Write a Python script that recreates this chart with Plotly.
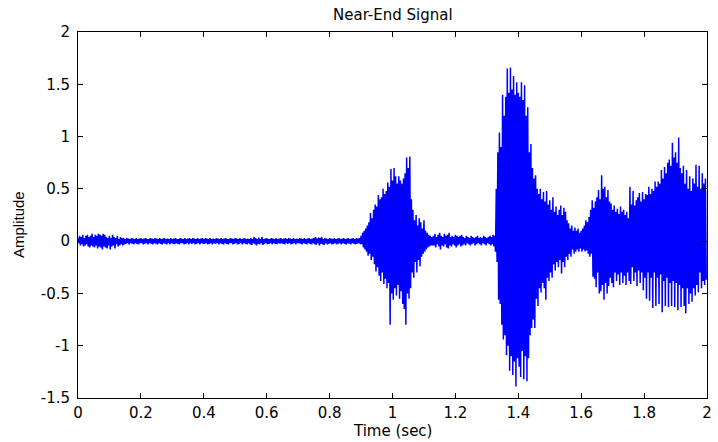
import numpy as np
import plotly.graph_objects as go

# ---- data: waveform envelope samples (upper / lower extremes, 5 ms steps) ----
dt = 0.005
seg_starts = [0.0, 0.9, 1.13, 1.33]

quiet1_upper = [
    0.03, 0.05, 0.04, 0.06, 0.03, 0.05, 0.06, 0.04, 0.05, 0.07,
    0.04, 0.06, 0.05, 0.07, 0.06, 0.05, 0.07, 0.06, 0.04, 0.03,
    0.05, 0.03, 0.06, 0.04, 0.03, 0.05, 0.02, 0.04, 0.03, 0.03,
    0.02, 0.03, 0.025, 0.02, 0.03, 0.025, 0.02, 0.03, 0.02, 0.025,
    0.03, 0.02, 0.025, 0.03, 0.02, 0.02, 0.03, 0.025, 0.02, 0.03,
    0.025, 0.02, 0.03, 0.02, 0.025, 0.03, 0.02, 0.025, 0.02, 0.03,
    0.02, 0.025, 0.03, 0.02, 0.02, 0.03, 0.025, 0.02, 0.03, 0.02,
    0.025, 0.03, 0.02, 0.03, 0.025, 0.02, 0.03, 0.02, 0.025, 0.03,
    0.02, 0.03, 0.025, 0.02, 0.03, 0.02, 0.025, 0.02, 0.03, 0.025,
    0.02, 0.03, 0.02, 0.025, 0.03, 0.02, 0.02, 0.03, 0.025, 0.02,
    0.03, 0.025, 0.02, 0.03, 0.02, 0.025, 0.03, 0.02, 0.025, 0.02,
    0.03, 0.02, 0.04, 0.03, 0.02, 0.035, 0.02, 0.04, 0.02, 0.025,
    0.03, 0.02, 0.02, 0.03, 0.025, 0.02, 0.03, 0.02, 0.025, 0.03,
    0.02, 0.025, 0.03, 0.02, 0.03, 0.025, 0.02, 0.03, 0.02, 0.025,
    0.02, 0.03, 0.025, 0.02, 0.03, 0.02, 0.025, 0.03, 0.02, 0.025,
    0.03, 0.04, 0.025, 0.035, 0.03, 0.04, 0.02, 0.03, 0.025, 0.02,
    0.03, 0.025, 0.02, 0.03, 0.02, 0.025, 0.03, 0.02, 0.025, 0.03,
    0.02, 0.025, 0.03, 0.02, 0.025, 0.03, 0.02, 0.03, 0.025, 0.03,
]
quiet1_lower = [
    -0.02, -0.04, -0.03, -0.05, -0.04, -0.03, -0.05, -0.06, -0.04, -0.05,
    -0.06, -0.04, -0.07, -0.05, -0.06, -0.08, -0.05, -0.06, -0.07, -0.04,
    -0.08, -0.05, -0.04, -0.07, -0.03, -0.05, -0.04, -0.03, -0.04, -0.03,
    -0.025, -0.02, -0.03, -0.02, -0.025, -0.03, -0.02, -0.025, -0.03, -0.02,
    -0.02, -0.03, -0.025, -0.02, -0.03, -0.02, -0.025, -0.03, -0.02, -0.025,
    -0.03, -0.02, -0.025, -0.03, -0.02, -0.025, -0.03, -0.02, -0.03, -0.02,
    -0.025, -0.03, -0.02, -0.025, -0.03, -0.02, -0.02, -0.03, -0.025, -0.02,
    -0.03, -0.02, -0.025, -0.02, -0.03, -0.025, -0.02, -0.03, -0.02, -0.025,
    -0.025, -0.02, -0.03, -0.025, -0.02, -0.03, -0.02, -0.025, -0.02, -0.03,
    -0.02, -0.025, -0.03, -0.02, -0.025, -0.03, -0.02, -0.02, -0.03, -0.025,
    -0.02, -0.03, -0.025, -0.02, -0.03, -0.02, -0.025, -0.03, -0.02, -0.03,
    -0.035, -0.02, -0.03, -0.04, -0.025, -0.03, -0.02, -0.035, -0.025, -0.02,
    -0.03, -0.025, -0.02, -0.03, -0.02, -0.025, -0.03, -0.02, -0.025, -0.02,
    -0.025, -0.03, -0.02, -0.025, -0.02, -0.03, -0.025, -0.02, -0.03, -0.02,
    -0.02, -0.025, -0.03, -0.02, -0.025, -0.03, -0.02, -0.025, -0.03, -0.02,
    -0.03, -0.035, -0.02, -0.04, -0.025, -0.03, -0.035, -0.02, -0.03, -0.025,
    -0.02, -0.03, -0.025, -0.02, -0.03, -0.025, -0.02, -0.03, -0.02, -0.025,
    -0.03, -0.02, -0.025, -0.03, -0.02, -0.025, -0.03, -0.025, -0.02, -0.03,
]

burst1_upper = [
    0.05, 0.08, 0.10, 0.12, 0.15, 0.18, 0.27, 0.22, 0.30, 0.35,
    0.33, 0.44, 0.40, 0.42, 0.50, 0.45, 0.48, 0.56, 0.52, 0.69,
    0.58, 0.70, 0.62, 0.55, 0.62, 0.58, 0.55, 0.60, 0.65, 0.80,
    0.70, 0.81, 0.40, 0.30, 0.20, 0.25, 0.15, 0.22, 0.18, 0.12,
    0.20, 0.10, 0.08, 0.06, 0.05, 0.04,
]
burst1_lower = [
    -0.03, -0.06, -0.08, -0.10, -0.14, -0.12, -0.18, -0.15, -0.22, -0.29,
    -0.25, -0.33, -0.38, -0.30, -0.41, -0.36, -0.45, -0.40, -0.80, -0.50,
    -0.56, -0.45, -0.52, -0.42, -0.55, -0.48, -0.60, -0.65, -0.80, -0.50,
    -0.55, -0.45, -0.30, -0.35, -0.20, -0.30, -0.18, -0.24, -0.15, -0.12,
    -0.10, -0.08, -0.06, -0.05, -0.04, -0.04,
]

quiet2_upper = [
    0.05, 0.07, 0.04, 0.06, 0.08, 0.05, 0.04, 0.07, 0.05, 0.06,
    0.08, 0.04, 0.05, 0.04, 0.06, 0.05, 0.04, 0.05, 0.06, 0.04,
    0.03, 0.05, 0.04, 0.03, 0.05, 0.04, 0.03, 0.04, 0.05, 0.03,
    0.04, 0.03, 0.05, 0.04, 0.03, 0.04, 0.05, 0.04, 0.06, 0.05,
]
quiet2_lower = [
    -0.04, -0.06, -0.03, -0.05, -0.08, -0.04, -0.05, -0.03, -0.06, -0.07,
    -0.04, -0.05, -0.03, -0.04, -0.06, -0.04, -0.03, -0.05, -0.04, -0.03,
    -0.04, -0.02, -0.03, -0.04, -0.03, -0.02, -0.04, -0.03, -0.02, -0.03,
    -0.04, -0.02, -0.03, -0.04, -0.02, -0.03, -0.04, -0.03, -0.05, -0.10,
]

burst2_upper = [
    0.50, 0.85, 1.04, 0.90, 1.40, 1.20, 1.38, 1.65, 1.42, 1.66,
    1.45, 1.58, 1.40, 1.52, 1.42, 1.38, 1.52, 1.35, 1.49, 1.20,
    1.28, 0.85, 0.93, 0.70, 0.60, 0.63, 0.50, 0.45, 0.50, 0.40,
    0.47, 0.38, 0.48, 0.35, 0.39, 0.30, 0.42, 0.28, 0.33, 0.25,
    0.30, 0.34, 0.25, 0.32, 0.28, 0.20, 0.17, 0.12, 0.15, 0.10,
    0.13, 0.10, 0.12, 0.08, 0.10, 0.12, 0.15, 0.20, 0.18, 0.23,
    0.30, 0.39, 0.32, 0.38, 0.42, 0.49, 0.40, 0.63, 0.50, 0.52,
    0.42, 0.49, 0.38, 0.36, 0.30, 0.34, 0.28, 0.31, 0.26, 0.33,
    0.28, 0.30, 0.25, 0.28, 0.22, 0.52, 0.35, 0.48, 0.34, 0.39,
    0.42, 0.46, 0.38, 0.47, 0.40, 0.45, 0.44, 0.52, 0.45, 0.50,
    0.48, 0.57, 0.52, 0.57, 0.55, 0.68, 0.60, 0.71, 0.65, 0.75,
    0.78, 0.72, 0.94, 0.80, 0.85, 0.75, 0.99, 0.70, 0.65, 0.72,
    0.55, 0.68, 0.50, 0.62, 0.48, 0.60, 0.55, 0.73, 0.52, 0.72,
    0.50, 0.65, 0.55, 0.60,
]
burst2_lower = [
    -0.20, -0.56, -0.60, -0.80, -0.94, -0.90, -1.09, -1.00, -1.24, -1.10,
    -1.28, -1.15, -1.39, -1.12, -1.20, -1.30, -1.05, -1.32, -1.10, -1.34,
    -1.12, -0.90, -0.83, -0.75, -0.83, -0.55, -0.62, -0.45, -0.49, -0.40,
    -0.45, -0.56, -0.35, -0.38, -0.30, -0.35, -0.22, -0.28, -0.20, -0.25,
    -0.18, -0.31, -0.20, -0.25, -0.15, -0.18, -0.12, -0.15, -0.08, -0.12,
    -0.10, -0.08, -0.10, -0.07, -0.10, -0.08, -0.10, -0.09, -0.12, -0.15,
    -0.12, -0.34, -0.36, -0.44, -0.30, -0.50, -0.48, -0.42, -0.56, -0.40,
    -0.50, -0.43, -0.35, -0.40, -0.44, -0.30, -0.38, -0.32, -0.42, -0.30,
    -0.40, -0.33, -0.42, -0.30, -0.38, -0.41, -0.25, -0.38, -0.30, -0.43,
    -0.28, -0.40, -0.30, -0.47, -0.35, -0.55, -0.30, -0.57, -0.35, -0.64,
    -0.30, -0.62, -0.35, -0.60, -0.32, -0.68, -0.38, -0.62, -0.35, -0.63,
    -0.40, -0.62, -0.38, -0.63, -0.40, -0.66, -0.42, -0.63, -0.45, -0.62,
    -0.69, -0.45, -0.60, -0.50, -0.58, -0.45, -0.52, -0.42, -0.49, -0.30,
    -0.45, -0.38, -0.42, -0.37,
]

x_tick_vals = [0, 0.2, 0.4, 0.6, 0.8, 1.0, 1.2, 1.4, 1.6, 1.8, 2.0]
x_tick_text = ["0", "0.2", "0.4", "0.6", "0.8", "1", "1.2", "1.4", "1.6", "1.8", "2"]
y_tick_vals = [-1.5, -1, -0.5, 0, 0.5, 1, 1.5, 2]
y_tick_text = ["-1.5", "-1", "-0.5", "0", "0.5", "1", "1.5", "2"]

segments = [
    (quiet1_upper, quiet1_lower),
    (burst1_upper, burst1_lower),
    (quiet2_upper, quiet2_lower),
    (burst2_upper, burst2_lower),
]

# interleave upper/lower extremes into a single oscillating trace
xs, ys = [], []
for start, (up, lo) in zip(seg_starts, segments):
    n = min(len(up), len(lo))
    for k in range(n):
        t = start + k * dt
        xs.append(t)
        ys.append(up[k])
        xs.append(t + dt / 2)
        ys.append(lo[k])

fig = go.Figure()
fig.add_trace(go.Scatter(x=xs, y=ys, mode="lines",
                         line=dict(color="#0000FF", width=1.5),
                         hoverinfo="skip", showlegend=False))

axis_common = dict(
    showline=True, linecolor="black", linewidth=1, mirror="allticks",
    ticks="inside", ticklen=5, tickcolor="black", tickwidth=1,
    showgrid=False, zeroline=False,
    tickfont=dict(family="DejaVu Sans", size=15, color="black"),
)

fig.update_layout(
    width=718, height=442,
    margin=dict(l=78, r=6, t=32, b=44),
    paper_bgcolor="white", plot_bgcolor="white",
    xaxis=dict(range=[0, 2], tickvals=x_tick_vals, ticktext=x_tick_text,
               ticklabelstandoff=1, **axis_common),
    yaxis=dict(range=[-1.5, 2], tickvals=y_tick_vals, ticktext=y_tick_text,
               ticklabelstandoff=4, **axis_common),
    annotations=[
        dict(text="Near-End Signal", xref="paper", yref="paper", x=0.5, y=1,
             yshift=17, xanchor="center", yanchor="middle", showarrow=False,
             font=dict(family="DejaVu Sans", size=15, color="black")),
        dict(text="Time (sec)", xref="paper", yref="paper", x=0.5, y=0,
             yshift=-33, xanchor="center", yanchor="middle", showarrow=False,
             font=dict(family="DejaVu Sans", size=15, color="black")),
        dict(text="Amplitude", xref="paper", yref="paper", x=0, y=0.5,
             xshift=-60, yshift=-10, textangle=-90, xanchor="center", yanchor="middle",
             showarrow=False,
             font=dict(family="Liberation Sans", size=15, color="black")),
    ],
)

fig.write_html("out.html", config={"displayModeBar": False})
